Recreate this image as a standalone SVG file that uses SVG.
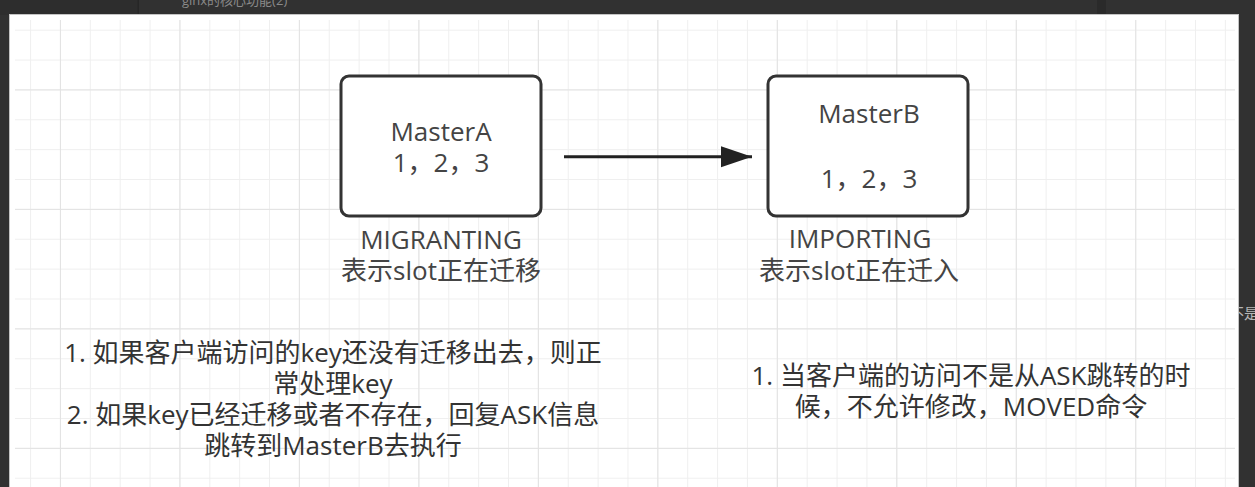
<svg xmlns="http://www.w3.org/2000/svg" width="1255" height="487" viewBox="0 0 1255 487">
  <style>
    .t { font-family: "Open Sans", "Noto Sans CJK SC", sans-serif; font-size: 26px; fill: #333; text-anchor: middle; }
    .lbl { fill: #444; }
    .box { fill: #fff; stroke: #333; stroke-width: 3; }
    .edge { stroke: #222; stroke-width: 3; fill: none; }
    .ui { font-family: "Open Sans", "Noto Sans CJK SC", sans-serif; }
  </style>
  <defs>
    <pattern id="minor" patternUnits="userSpaceOnUse" x="0.2" y="-0.2" width="29.87" height="29.87">
      <rect x="0" y="0" width="1" height="29.87" fill="#efefef"/>
      <rect x="0" y="0" width="29.87" height="1" fill="#efefef"/>
    </pattern>
    <pattern id="major" patternUnits="userSpaceOnUse" x="59.94" y="89.4" width="119.48" height="119.48">
      <rect x="0" y="0" width="1" height="119.48" fill="#e2e2e2"/>
      <rect x="0" y="0" width="119.48" height="1" fill="#e2e2e2"/>
    </pattern>
    <marker id="arrow" markerUnits="userSpaceOnUse" markerWidth="32" markerHeight="22" refX="31" refY="10.5" orient="auto">
      <path d="M0,0 L31,10.5 L0,21 Z" fill="#222"/>
    </marker>
  </defs>

  <!-- editor chrome -->
  <rect x="0" y="0" width="1255" height="487" fill="#313131"/>
  <rect x="0" y="0" width="138" height="15" fill="#2d2d2d"/>
  <rect x="137.5" y="0" width="1.5" height="15" fill="#262626"/>
  <rect x="1097" y="0" width="9" height="15" fill="#2a2a2a"/>
  <text class="ui" x="182" y="5" font-size="13" fill="#8a8a8a">ginx的核心功能(2)</text>
  <text class="ui" x="1229" y="319" font-size="15" fill="#b5b5b5">不是</text>

  <!-- canvas -->
  <rect x="9.5" y="14.5" width="1229" height="480" fill="#fff" stroke="#c4c4c4" stroke-width="1"/>
  <rect x="15" y="20" width="1220" height="467" fill="url(#minor)"/>
  <rect x="15" y="20" width="1220" height="467" fill="url(#major)"/>

  <g id="connectors">
    <line class="edge" x1="564" y1="156.7" x2="752" y2="156.7" marker-end="url(#arrow)"/>
  </g>

  <g id="masterA">
    <rect class="box" x="341" y="76" width="200" height="140" rx="8" ry="8"/>
    <text class="t lbl" x="441" y="141">MasterA</text>
    <text class="t lbl" x="441" y="172">1，2，3</text>
  </g>

  <g id="masterB">
    <rect class="box" x="768" y="76" width="200" height="140" rx="8" ry="8"/>
    <text class="t lbl" x="869" y="123">MasterB</text>
    <text class="t lbl" x="869" y="188">1，2，3</text>
  </g>

  <g id="labelA">
    <text class="t lbl" x="441" y="249">MIGRANTING</text>
    <text class="t lbl" x="441" y="280">表示slot正在迁移</text>
  </g>

  <g id="labelB">
    <text class="t lbl" x="860" y="248">IMPORTING</text>
    <text class="t lbl" x="859" y="280">表示slot正在迁入</text>
  </g>

  <g id="noteA">
    <text class="t" x="333" y="362">1. 如果客户端访问的key还没有迁移出去，则正</text>
    <text class="t" x="333" y="393">常处理key</text>
    <text class="t" x="333" y="424">2. 如果key已经迁移或者不存在，回复ASK信息</text>
    <text class="t" x="333" y="455">跳转到MasterB去执行</text>
  </g>

  <g id="noteB">
    <text class="t" x="971" y="385">1. 当客户端的访问不是从ASK跳转的时</text>
    <text class="t" x="971" y="416">候，不允许修改，MOVED命令</text>
  </g>
</svg>
